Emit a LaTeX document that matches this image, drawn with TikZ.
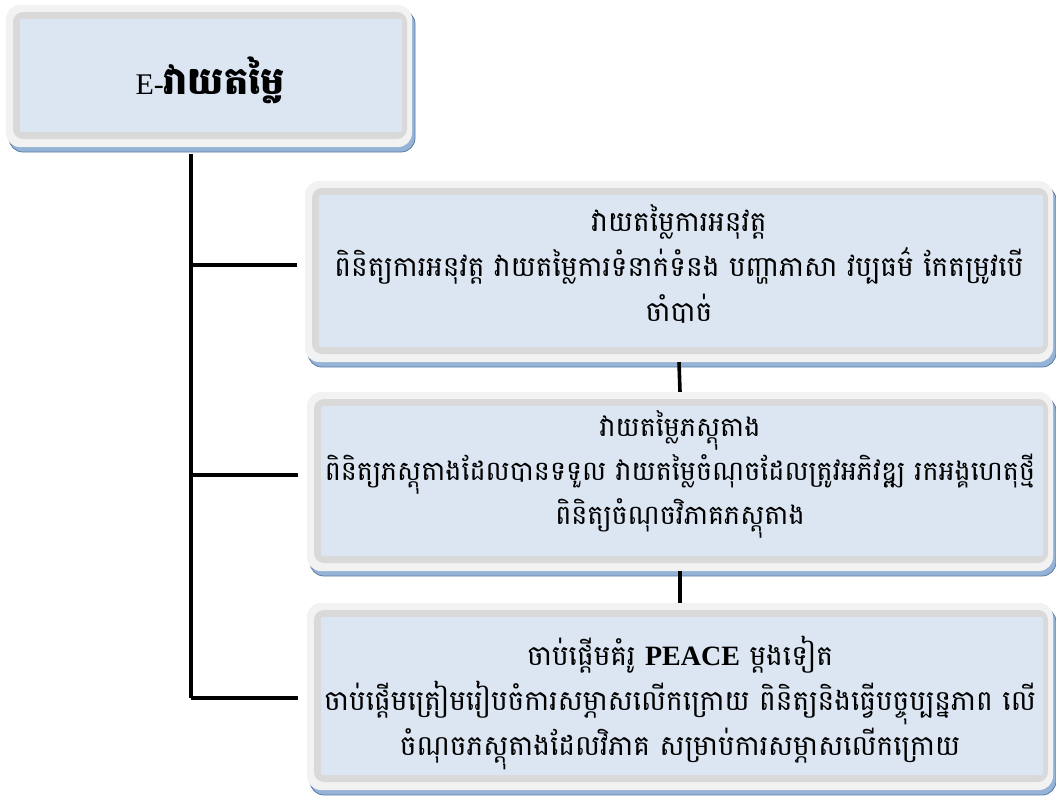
\documentclass[tikz,border=0pt]{standalone}
\usepackage{fontspec}
\newfontfamily\kh[Script=Khmer]{Battambang}
\newfontfamily\lat{Liberation Serif}
\usetikzlibrary{calc}
\definecolor{frameLight}{HTML}{F2F2F2}
\definecolor{bandGrey}{HTML}{D9D9D9}
\definecolor{fillBlue}{HTML}{DCE6F2}
\definecolor{shadowBlue}{HTML}{95B3D7}
\definecolor{shadowLine}{HTML}{5A7BA5}
\tikzset{
  panel/.style={rounded corners=14pt, fill=frameLight, draw=none, inner sep=0pt,
    preaction={fill=shadowBlue, draw=shadowLine, line width=0.8pt, transform canvas={shift={(3pt,-5pt)}}},
    path picture={
      \fill[bandGrey, rounded corners=10pt] ([shift={(7pt,8pt)}]path picture bounding box.south west) rectangle ([shift={(-5pt,-7pt)}]path picture bounding box.north east);
      \fill[fillBlue, rounded corners=2pt] ([shift={(14pt,15pt)}]path picture bounding box.south west) rectangle ([shift={(-10pt,-14pt)}]path picture bounding box.north east);
    }},
  txt/.style={align=center, inner sep=0pt, font=\kh\fontsize{28}{45}\selectfont},
  conn/.style={line width=3.6pt, draw=black}
}
\begin{document}
\begin{tikzpicture}[x=1pt,y=-1pt]
\useasboundingbox (0,0) rectangle (1056,796);
% panels
\node[panel, minimum width=406pt, minimum height=142pt] (top) at (209,76) {};
\node[panel, minimum width=748pt, minimum height=181pt] (b1) at (679,271.5) {};
\node[panel, minimum width=746pt, minimum height=179pt] (b2) at (680,481.5) {};
\node[panel, minimum width=746pt, minimum height=187pt] (b3) at (680,696.5) {};
% texts
\node[inner sep=0pt] (tt) at (210,80) {\lat\fontsize{30}{34}\selectfont E-\kh\bfseries\fontsize{38}{44}\selectfont វាយតម្លៃ};
\node[txt] (t1) at (679,264) {វាយតម្លៃការអនុវត្ត\\ពិនិត្យការអនុវត្ត វាយតម្លៃការទំនាក់ទំនង បញ្ហាភាសា វប្បធម៌ កែតម្រូវបើ\\ចាំបាច់};
\node[txt, font=\kh\fontsize{27}{44}\selectfont] (t2) at (680,474) {វាយតម្លៃភស្តុតាង\\ពិនិត្យភស្តុតាងដែលបានទទួល វាយតម្លៃចំណុចដែលត្រូវអភិវឌ្ឍ រកអង្គហេតុថ្មី\\ពិនិត្យចំណុចវិភាគភស្តុតាង};
\node[txt] (t3) at (680,703) {ចាប់ផ្តើមគំរូ {\lat\bfseries PEACE} ម្តងទៀត\\ចាប់ផ្តើមត្រៀមរៀបចំការសម្ភាសលើកក្រោយ ពិនិត្យនិងធ្វើបច្ចុប្បន្នភាព លើ\\ចំណុចភស្តុតាងដែលវិភាគ សម្រាប់ការសម្ភាសលើកក្រោយ};
% connectors
\coordinate (j0) at (191,154);
\coordinate (j1) at (191,265);
\coordinate (j2) at (191,475);
\coordinate (j3) at (191,698);
\draw[conn] (j0) -- (j3);
\draw[conn] (j1) -- ([xshift=-8pt]b1.west |- j1);
\draw[conn] (j2) -- ([xshift=-9pt]b2.west |- j2);
\draw[conn] (j3) -- ([xshift=-9pt]b3.west |- j3);
\draw[conn] (b1.south) -- (b2.north);
\draw[conn] (b2.south) -- (b3.north);
\end{tikzpicture}
\end{document}
